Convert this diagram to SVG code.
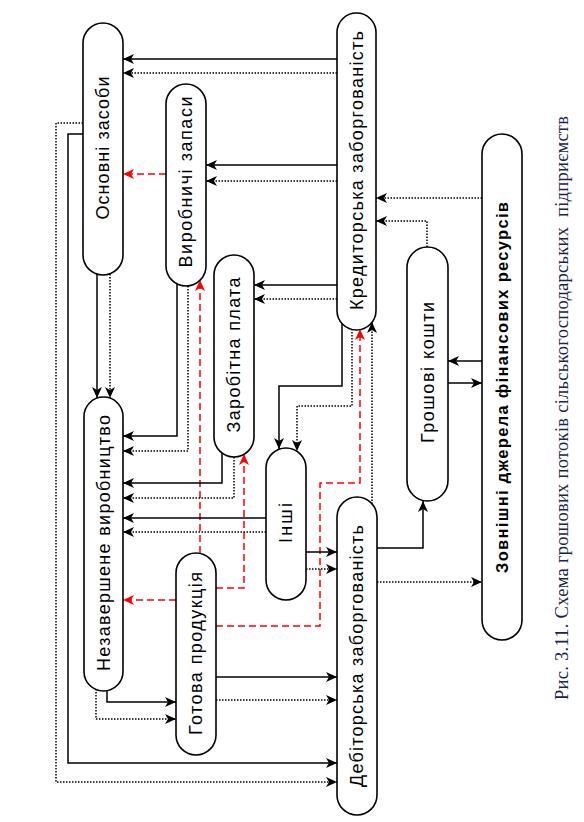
<svg xmlns="http://www.w3.org/2000/svg" width="584" height="822" viewBox="0 0 584 822">
<style>
.n{fill:#fff;stroke:#000;stroke-width:1.6}
.t{font-family:"Liberation Sans",Arial,sans-serif;font-size:18px;fill:#000;text-anchor:middle;dominant-baseline:central}
.tb{font-weight:bold;font-size:16.5px}
.s{fill:none;stroke:#000;stroke-width:1.5;marker-end:url(#a)}
.d{fill:none;stroke:#000;stroke-width:1.5;stroke-dasharray:1.5 1.5;marker-end:url(#a)}
.r{fill:none;stroke:#f00;stroke-width:1.5;stroke-dasharray:7 4;marker-end:url(#ar)}
.cap{font-family:"Liberation Serif","Times New Roman",serif;font-size:18.5px;fill:#1c2350}
</style>
<defs>
<marker id="a" markerUnits="userSpaceOnUse" markerWidth="11" markerHeight="10" refX="11" refY="5" orient="auto">
<path d="M0,0 L11,5 L0,10 L3,5 z" fill="#000"/>
</marker>
<marker id="ar" markerUnits="userSpaceOnUse" markerWidth="11" markerHeight="10" refX="11" refY="5" orient="auto">
<path d="M0,0 L11,5 L0,10 L3,5 z" fill="#f00"/>
</marker>
</defs>
<g id="connectors">
<path class="s" d="M337,59 H123"/>
<path class="d" d="M337,73 H123"/>
<path class="s" d="M337,165 H206"/>
<path class="d" d="M337,181 H206"/>
<path class="s" d="M337,285 H254"/>
<path class="d" d="M337,299 H254"/>
<path class="d" d="M482,198 H376"/>
<path class="d" d="M427,247 V221 H376"/>
<path class="s" d="M342,323 V386 H279 V449"/>
<path class="d" d="M352,329 V406 H297 V451"/>
<path class="r" d="M216,626 H320 V483 H360 V329"/>
<path class="d" d="M372,504 V322"/>
<path class="r" d="M166,174 H123"/>
<path class="s" d="M177,284 V436 H123"/>
<path class="d" d="M188,286 V451 H123"/>
<path class="r" d="M200,553 V280"/>
<path class="s" d="M222,453 V483 H123"/>
<path class="d" d="M234,457 V498 H123"/>
<path class="r" d="M216,588 H244 V454"/>
<path class="r" d="M176,600 H123"/>
<path class="s" d="M266,518 H123"/>
<path class="d" d="M266,532 H123"/>
<path class="s" d="M306,552 H337"/>
<path class="d" d="M306,569 H337"/>
<path class="s" d="M97,274 V398"/>
<path class="d" d="M110,274 V398"/>
<path class="s" d="M83,134 H68 V763 H337"/>
<path class="d" d="M83,123 H56 V782 H337"/>
<path class="s" d="M107,690 V702 H176"/>
<path class="d" d="M96,689 V719 H176"/>
<path class="s" d="M216,677 H337"/>
<path class="d" d="M216,700 H337"/>
<path class="s" d="M377,548 H423 V501"/>
<path class="d" d="M377,582 H482"/>
<path class="s" d="M482,361 H448"/>
<path class="s" d="M448,383 H482"/>
</g>
<g id="osnovni"><rect class="n" x="83" y="23" width="40" height="252" rx="20"/><text class="t" transform="translate(103,148) rotate(-90)" textLength="143" lengthAdjust="spacing">Основні засоби</text></g>
<g id="vyrobnychi"><rect class="n" x="166" y="84" width="40" height="202" rx="20"/><text class="t" transform="translate(186,182) rotate(-90)" textLength="171" lengthAdjust="spacing">Виробничі запаси</text></g>
<g id="kredytorska"><rect class="n" x="337" y="13" width="39" height="317" rx="19.5"/><text class="t" transform="translate(356.5,170.5) rotate(-90)" textLength="279" lengthAdjust="spacing">Кредиторська заборгованість</text></g>
<g id="zarobitna"><rect class="n" x="214" y="255" width="40" height="202" rx="20"/><text class="t" transform="translate(234,355) rotate(-90)" textLength="155" lengthAdjust="spacing">Заробітна плата</text></g>
<g id="nezavershene"><rect class="n" x="84" y="397" width="39" height="294" rx="19.5"/><text class="t" transform="translate(103.5,543) rotate(-90)" textLength="256" lengthAdjust="spacing">Незавершене виробництво</text></g>
<g id="inshi"><rect class="n" x="266" y="448" width="40" height="152" rx="20"/><text class="t" transform="translate(286,523) rotate(-90)" textLength="40" lengthAdjust="spacing">Інші</text></g>
<g id="gotova"><rect class="n" x="176" y="553" width="40" height="202" rx="20"/><text class="t" transform="translate(196,653.5) rotate(-90)" textLength="163" lengthAdjust="spacing">Готова продукція</text></g>
<g id="debitorska"><rect class="n" x="337" y="497" width="40" height="318" rx="20"/><text class="t" transform="translate(357,656) rotate(-90)" textLength="262" lengthAdjust="spacing">Дебіторська заборгованість</text></g>
<g id="groshovi"><rect class="n" x="407" y="247" width="41" height="254" rx="20.5"/><text class="t" transform="translate(427.5,372.5) rotate(-90)" textLength="141" lengthAdjust="spacing">Грошові кошти</text></g>
<g id="zovnishni"><rect class="n" x="482" y="134" width="40" height="506" rx="20"/><text class="t tb" transform="translate(502,387.5) rotate(-90)" textLength="371" lengthAdjust="spacing">Зовнішні джерела фінансових ресурсів</text></g>
<g id="caption"><text class="cap" xml:space="preserve" transform="translate(568,700) rotate(-90)" textLength="584" lengthAdjust="spacing">Рис. 3.11. Схема грошових потоків сільськогосподарських  підприємств</text></g>
</svg>
